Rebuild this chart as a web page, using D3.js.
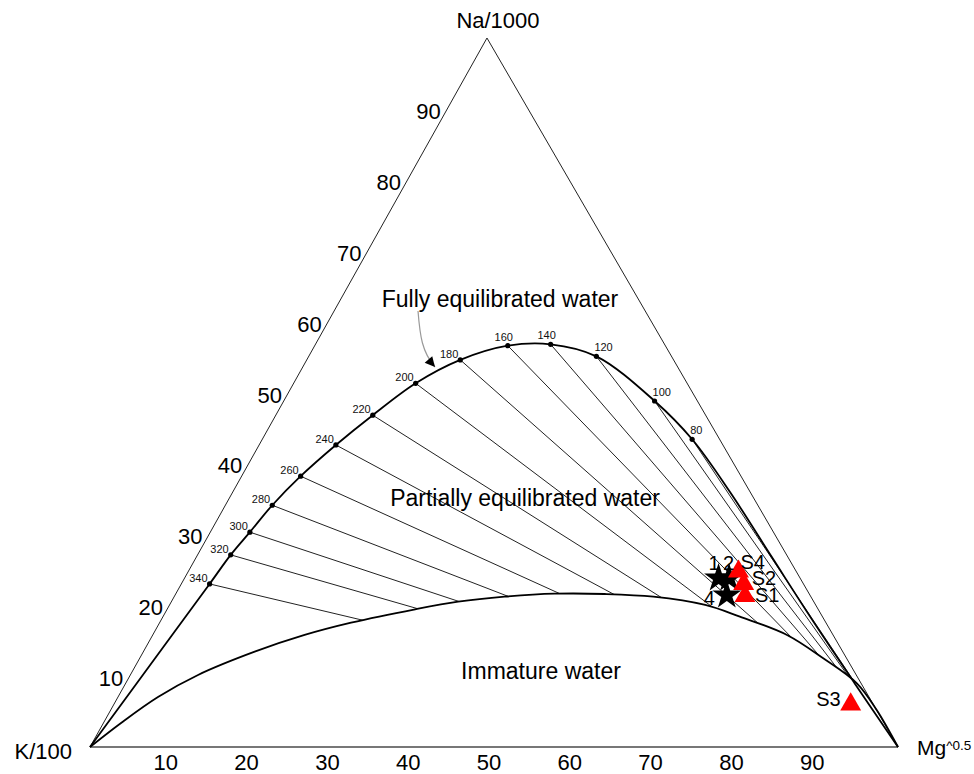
<!DOCTYPE html>
<html><head><meta charset="utf-8">
<script src="https://cdn.jsdelivr.net/npm/d3@7"></script>
<style>body{margin:0;background:#fff} svg{display:block} text{font-family:"Liberation Sans",Arial,sans-serif}</style>
</head><body><svg id="c" width="974" height="774"></svg>
<script>
// ---- data (ternary fractions: Na/1000, Mg^0.5; K/100 is the remainder) ----
const tempLabels = [340,320,300,280,260,240,220,200,180,160,140,120,100,80];
const tempNa = [0.230,0.271,0.303,0.341,0.382,0.426,0.468,0.513,0.546,0.566,0.568,0.551,0.488,0.434];
const tempMg = [0.035,0.041,0.049,0.058,0.073,0.095,0.120,0.151,0.190,0.239,0.291,0.356,0.459,0.532];
const tempAnchor = ['end','end','end','end','end','end','end','end','end','middle','middle','start','start','start'];

// full-equilibrium curve extra (unlabelled) points before 340 and after 80
const fullHeadNa = [0, 0.115];
const fullHeadMg = [0, 0.0175];
const fullTailNa = [0.36, 0.27, 0.18, 0.09, 0];
const fullTailMg = [0.615, 0.71, 0.805, 0.902, 1];

// partial-equilibrium (immature water) boundary
const lowerNa = [0,0.0339,0.0705,0.1016,0.1344,0.158,0.1753,0.1942,0.2049,0.212,0.2162,0.2158,0.212,0.2003,0.1838,0.158,0.1251,0.0898,0.0522,0];
const lowerMg = [0,0.0218,0.0495,0.0838,0.1378,0.188,0.237,0.307,0.355,0.409,0.469,0.531,0.593,0.663,0.714,0.785,0.846,0.905,0.948,1];

// samples
const starIds = ['1','2','4'];
const starNa = [0.238,0.238,0.214];
const starMg = [0.661,0.674,0.683];
const starSide = ['above-left','above','left'];

const triIds = ['S1','S2','S3','S4'];
const triNa = [0.213,0.230,0.060,0.2475];
const triMg = [0.706,0.696,0.912,0.681];
const triSide = ['right-low','right','left','above-right'];

const tickVals = [10,20,30,40,50,60,70,80,90];

// ---- geometry via d3 scales ----
const skew = 0.4913; // horizontal position of the Na apex along the base
const xs = d3.scaleLinear().domain([0,1]).range([90,898]);
const ys = d3.scaleLinear().domain([0,1]).range([747,38]);
const P = (na, mg) => [xs(mg + na*skew), ys(na)];

const svg = d3.select('#c');
const defs = svg.append('defs');
defs.append('marker').attr('id','ah').attr('viewBox','0 0 10 10').attr('refX',10).attr('refY',5)
  .attr('markerWidth',12).attr('markerHeight',10).attr('markerUnits','userSpaceOnUse').attr('orient','auto')
  .append('path').attr('d','M0,0L10,5L0,10Z').attr('fill','#000');

const line = d3.line().curve(d3.curveCatmullRom.alpha(0.5));
const straight = d3.line();

const K = P(0,0), M = P(0,1), N = P(1,0);

// triangle
svg.append('path').attr('d', straight([M,N,K])).attr('fill','none').attr('stroke','#222').attr('stroke-width',1);
svg.append('path').attr('d', straight([K,M])).attr('fill','none').attr('stroke','#777').attr('stroke-width',2);

// lower curve points
const lowerPts = lowerNa.map((n,i)=>P(n, lowerMg[i]));
defs.append('clipPath').attr('id','above').append('path')
  .attr('d', line(lowerPts) + 'L' + N[0] + ',' + N[1] + 'Z');

// tie lines from equilibrium points toward Mg vertex, clipped at lower curve
const tempPts = tempNa.map((n,i)=>P(n, tempMg[i]));
svg.append('g').attr('clip-path','url(#above)').selectAll('line').data(tempPts).join('line')
  .attr('x1',d=>d[0]).attr('y1',d=>d[1]).attr('x2',M[0]).attr('y2',M[1])
  .attr('stroke','#222').attr('stroke-width',1);

// curves
const fullPts = [...fullHeadNa.map((n,i)=>P(n, fullHeadMg[i])), ...tempPts, ...fullTailNa.map((n,i)=>P(n, fullTailMg[i]))];
svg.append('path').attr('d', line(fullPts)).attr('fill','none').attr('stroke','#000').attr('stroke-width',1.8);
svg.append('path').attr('d', line(lowerPts)).attr('fill','none').attr('stroke','#000').attr('stroke-width',1.8);

// temperature dots & labels
svg.append('g').selectAll('circle').data(tempPts).join('circle')
  .attr('cx',d=>d[0]).attr('cy',d=>d[1]).attr('r',2.6).attr('fill','#000');
svg.append('g').selectAll('text').data(tempLabels).join('text')
  .attr('x',(d,i)=>tempPts[i][0] + (tempAnchor[i]==='end'?-2:(tempAnchor[i]==='middle'?-4:-2)))
  .attr('y',(d,i)=>tempPts[i][1] + (tempAnchor[i]==='end'?-2:-5))
  .attr('text-anchor',(d,i)=>tempAnchor[i]).attr('font-size',11).attr('fill','#111').text(d=>d);

// axis tick labels
svg.append('g').selectAll('text').data(tickVals).join('text')
  .attr('x',d=>P(0,d/100)[0]-5).attr('y',770).attr('text-anchor','middle')
  .attr('font-size',22).attr('fill','#000').text(d=>d);
svg.append('g').selectAll('text').data(tickVals).join('text')
  .attr('x',d=>P(d/100,0)[0]-6.5).attr('y',d=>P(d/100,0)[1]+10).attr('text-anchor','end')
  .attr('font-size',22).attr('fill','#000').text(d=>d);

// corner labels
svg.append('text').attr('x',N[0]+11).attr('y',28).attr('text-anchor','middle').attr('font-size',22).text('Na/1000');
svg.append('text').attr('x',K[0]-18).attr('y',759).attr('text-anchor','end').attr('font-size',22).text('K/100');
const mgT = svg.append('text').attr('x',M[0]+19).attr('y',755).attr('font-size',21);
mgT.append('tspan').text('Mg');
mgT.append('tspan').attr('font-size',13.5).attr('dy',-5).text('^0.5');

// region labels
svg.append('text').attr('x',500).attr('y',307).attr('text-anchor','middle').attr('font-size',23).text('Fully equilibrated water');
svg.append('text').attr('x',525).attr('y',506).attr('text-anchor','middle').attr('font-size',23).text('Partially equilibrated water');
svg.append('text').attr('x',541).attr('y',679).attr('text-anchor','middle').attr('font-size',23).text('Immature water');

// annotation arrow
svg.append('path').attr('d','M418,311 C420,336 422,352 435,367').attr('fill','none')
  .attr('stroke','#999').attr('stroke-width',1.2).attr('marker-end','url(#ah)');

// samples: stars
const starPts = starNa.map((n,i)=>P(n, starMg[i]));
svg.append('g').selectAll('path').data(starPts).join('path')
  .attr('transform',d=>`translate(${d[0]},${d[1]})`)
  .attr('d', d3.symbol().type(d3.symbolStar).size(260)()).attr('fill','#000');

// triangles
const triPts = triNa.map((n,i)=>P(n, triMg[i]));
svg.append('g').selectAll('path').data(triPts).join('path')
  .attr('transform',d=>`translate(${d[0]},${d[1]})`)
  .attr('d', d3.symbol().type(d3.symbolTriangle).size(190)()).attr('fill','#f00');

// sample labels
const sideOff = {
  'above-left': {dx:-10, dy:-8, a:'start'},
  'above': {dx:-6, dy:-8, a:'start'},
  'left': {dx:-12, dy:10, a:'end'},
  'right-low': {dx:10, dy:6, a:'start'},
  'right': {dx:8, dy:1, a:'start'},
  'above-right': {dx:2, dy:-3, a:'start'}
};
svg.append('g').selectAll('text').data(starIds).join('text')
  .attr('x',(d,i)=>starPts[i][0]+sideOff[starSide[i]].dx)
  .attr('y',(d,i)=>starPts[i][1]+sideOff[starSide[i]].dy)
  .attr('text-anchor',(d,i)=>sideOff[starSide[i]].a).attr('font-size',20).text(d=>d);
const triOff = Object.assign({}, sideOff, {'left': {dx:-10, dy:2, a:'end'}});
svg.append('g').selectAll('text').data(triIds).join('text')
  .attr('x',(d,i)=>triPts[i][0]+triOff[triSide[i]].dx)
  .attr('y',(d,i)=>triPts[i][1]+triOff[triSide[i]].dy)
  .attr('text-anchor',(d,i)=>triOff[triSide[i]].a).attr('font-size',20).text(d=>d);
</script></body></html>
